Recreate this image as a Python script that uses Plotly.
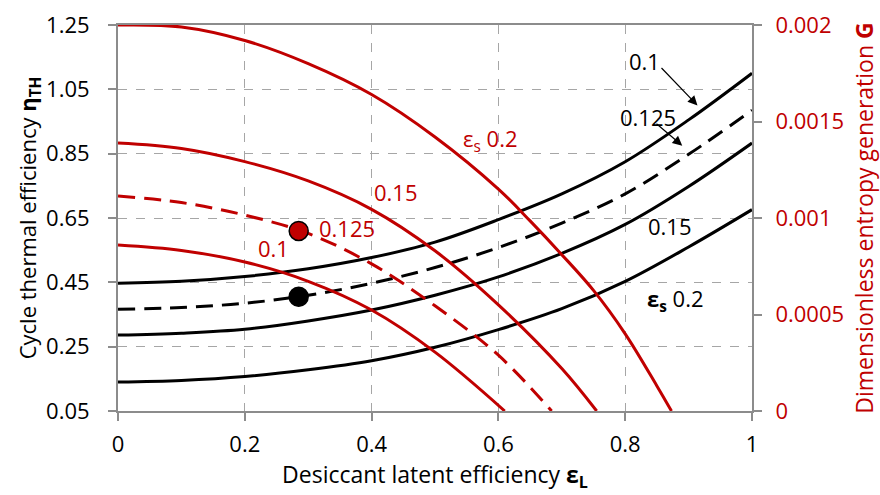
import plotly.graph_objects as go

# Desiccant latent efficiency (x)
eps_L = [0.0, 0.1, 0.2, 0.3, 0.4, 0.5, 0.6, 0.7, 0.8, 0.9, 1.0]

# Cycle thermal efficiency (left axis), by sensible effectiveness eps_s
eta_01 = [0.447, 0.453, 0.468, 0.492, 0.527, 0.575, 0.645, 0.725, 0.825, 0.955, 1.100]
eta_0125 = [0.366, 0.372, 0.385, 0.410, 0.447, 0.496, 0.558, 0.634, 0.725, 0.848, 0.985]
eta_015 = [0.286, 0.292, 0.304, 0.330, 0.364, 0.410, 0.467, 0.540, 0.630, 0.748, 0.883]
eta_02 = [0.140, 0.145, 0.157, 0.178, 0.206, 0.248, 0.303, 0.368, 0.453, 0.560, 0.676]

# Dimensionless entropy generation G (right axis)
x_G02 = [0.0, 0.1, 0.2, 0.3, 0.4, 0.5, 0.6, 0.65, 0.7, 0.75, 0.8, 0.85, 0.873]
G_02 = [0.002, 0.00199, 0.00192, 0.0018, 0.00164, 0.00142, 0.00115, 0.000985, 0.00081, 0.000625, 0.0004, 0.00013, 0.0]
x_G015 = [0.0, 0.1, 0.2, 0.3, 0.4, 0.5, 0.6, 0.7, 0.755]
G_015 = [0.001388, 0.00136, 0.001292, 0.001192, 0.001045, 0.00083, 0.00055, 0.00022, 0.0]
x_G0125 = [0.0, 0.1, 0.2, 0.3, 0.4, 0.5, 0.6, 0.684]
G_0125 = [0.001114, 0.00108, 0.001015, 0.00092, 0.000762, 0.000545, 0.000289, 0.0]
x_G01 = [0.0, 0.1, 0.2, 0.3, 0.4, 0.5, 0.61]
G_01 = [0.00086, 0.000832, 0.000772, 0.000672, 0.000523, 0.000305, 0.0]

# Marked design points
pt_x = [0.285]
pt_eta = [0.405]
pt_G = [0.000933]

x_ticks = [0, 0.2, 0.4, 0.6, 0.8, 1]
eta_ticks = [0.05, 0.25, 0.45, 0.65, 0.85, 1.05, 1.25]
eta_ticktext = ["0.05", "0.25", "0.45", "0.65", "0.85", "1.05", "1.25"]
G_ticks = [0, 0.0005, 0.001, 0.0015, 0.002]
G_ticktext = ["0", "0.0005", "0.001", "0.0015", "0.002"]

RED = "#C00000"
GRID = "#A6A6A6"
AXIS = "#8C8C8C"
FONT = "Open Sans"
DASH = "17px,9px"

fig = go.Figure()

# Red G curves (right axis)
for xs, ys, dash in [(x_G02, G_02, "solid"), (x_G015, G_015, "solid"),
                     (x_G0125, G_0125, DASH), (x_G01, G_01, "solid")]:
    fig.add_trace(go.Scatter(x=xs, y=ys, yaxis="y2", mode="lines",
                             line=dict(color=RED, width=3, dash=dash, shape="spline", smoothing=1.0),
                             showlegend=False, hoverinfo="skip"))

# Black eta curves (left axis)
for ys, dash in [(eta_01, "solid"), (eta_0125, DASH), (eta_015, "solid"), (eta_02, "solid")]:
    fig.add_trace(go.Scatter(x=eps_L, y=ys, mode="lines",
                             line=dict(color="black", width=3, dash=dash, shape="spline", smoothing=1.0),
                             showlegend=False, hoverinfo="skip"))

fig.add_trace(go.Scatter(x=pt_x, y=pt_eta, mode="markers",
                         marker=dict(color="black", size=19, line=dict(color="black", width=1.5)),
                         showlegend=False))
fig.add_trace(go.Scatter(x=pt_x, y=pt_G, yaxis="y2", mode="markers",
                         marker=dict(color=RED, size=19, line=dict(color="black", width=1.5)),
                         showlegend=False))

ann = []
def label(x, y, text, color):
    ann.append(dict(x=x, y=y, xref="x", yref="y", text=text, showarrow=False,
                    font=dict(family=FONT, size=22, color=color)))

label(0.588, 0.893, "ε<sub>s</sub> 0.2", RED)
label(0.438, 0.731, "0.15", RED)
label(0.361, 0.619, "0.125", RED)
label(0.245, 0.557, "0.1", RED)
label(0.830, 1.137, "0.1", "black")
label(0.836, 0.965, "0.125", "black")
label(0.871, 0.626, "0.15", "black")
label(0.880, 0.395, "<b>ε<sub>s</sub></b> 0.2", "black")

for tx, ty, hx, hy in [(0.855, 1.121, 0.914, 1.0), (0.847, 0.947, 0.890, 0.875)]:
    ann.append(dict(x=hx, y=hy, ax=tx, ay=ty, xref="x", yref="y", axref="x", ayref="y",
                    text="", showarrow=True, arrowhead=2, arrowsize=1.6, arrowwidth=1.2,
                    arrowcolor="black"))

PAD = "\u2002" * 3
fig.update_layout(
    width=880, height=495,
    margin=dict(l=118, r=128, t=25, b=84),
    paper_bgcolor="white", plot_bgcolor="white",
    font=dict(family=FONT, size=22, color="black"),
    annotations=ann,
    xaxis=dict(range=[0, 1], tickvals=x_ticks, showgrid=True, gridcolor=GRID, griddash="dash",
               gridwidth=1, showline=True, linecolor=AXIS, linewidth=2, mirror=True,
               ticks="outside", ticklen=8, tickcolor=AXIS, tickwidth=2, zeroline=False,
               ticklabelstandoff=5, tickfont=dict(size=22), automargin=False,
               title=dict(text=PAD + "Desiccant latent efficiency <b>ε<sub>L</sub></b>",
                          font=dict(size=23), standoff=0)),
    yaxis=dict(range=[0.05, 1.25], tickvals=eta_ticks, ticktext=eta_ticktext, showgrid=True,
               gridcolor=GRID, griddash="dash", gridwidth=1, showline=True, linecolor=AXIS,
               linewidth=2, ticks="outside", ticklen=8, tickcolor=AXIS, tickwidth=2,
               zeroline=False, ticklabelstandoff=14, tickfont=dict(size=22), automargin=False,
               title=dict(text="Cycle thermal efficiency <b>η<sub>TH</sub></b>",
                          font=dict(size=22), standoff=2)),
    yaxis2=dict(range=[0, 0.002], overlaying="y", side="right", tickvals=G_ticks,
                ticktext=G_ticktext, showgrid=False, showline=True, linecolor=AXIS,
                linewidth=2, ticks="outside", ticklen=8, tickcolor=AXIS, tickwidth=2,
                zeroline=False, ticklabelstandoff=9, tickfont=dict(size=22, color=RED),
                automargin=False,
                title=dict(text="Dimensionless entropy generation <b>G</b>",
                           font=dict(size=23, color=RED), standoff=14)),
)

fig.write_html("out.html", config={"displayModeBar": False},
               post_script="document.body.style.margin='0px';document.body.style.overflow='hidden';")
